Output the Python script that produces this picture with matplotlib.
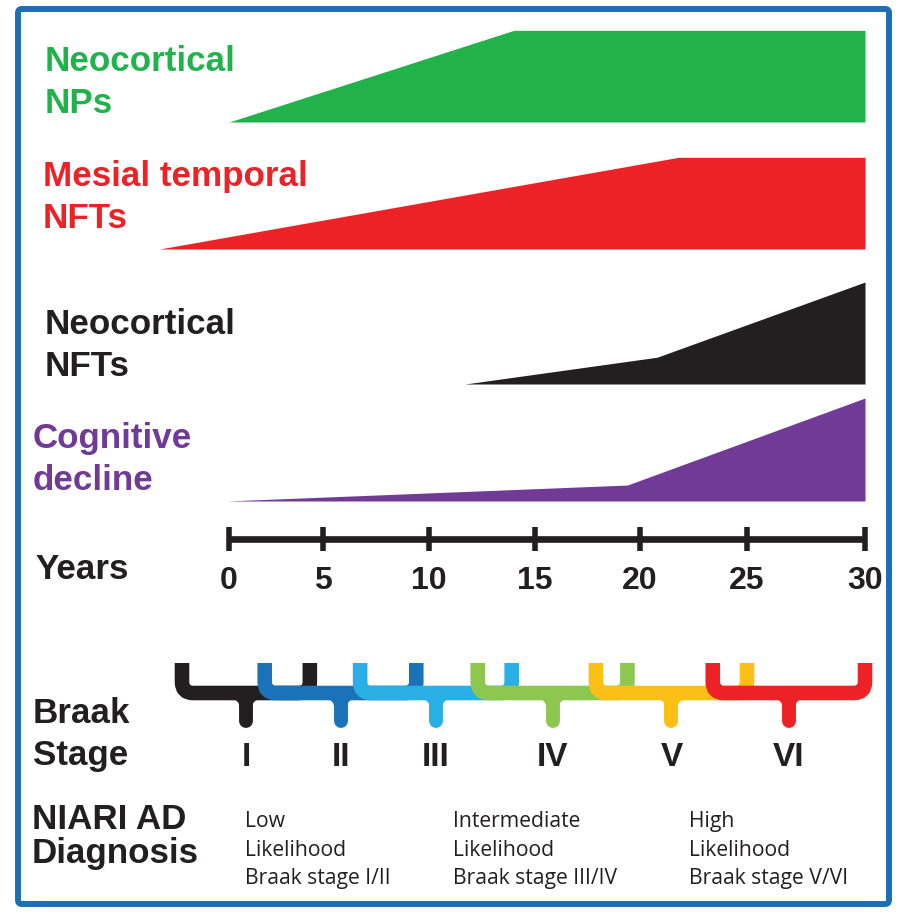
import matplotlib
matplotlib.use('Agg')
import matplotlib.pyplot as plt
import numpy as np
from matplotlib.path import Path
from matplotlib.patches import PathPatch, FancyBboxPatch

# timeline: tick years and where each tick sits across the figure (px)
tick_years = [0, 5, 10, 15, 20, 25, 30]
tick_px = [229, 323, 429, 535, 640, 747, 865]

# band profiles, level is relative height (1 = full band)
np_years = [0, 14, 30]
np_level = [0, 0.89, 0.89]
mt_years = [-3.7, 21.8, 30]
mt_level = [0, 0.89, 0.89]
nc_years = [11.7, 20.8, 30]
nc_level = [0, 0.26, 0.99]
cog_years = [-0.15, 19.4, 30]
cog_level = [0, 0.155, 1.0]

band_labels = ['Neocortical\nNPs', 'Mesial temporal\nNFTs', 'Neocortical\nNFTs', 'Cognitive\ndecline']

braak_stages = ['I', 'II', 'III', 'IV', 'V', 'VI']
braak_start = [-2.5, 1.9, 6.75, 12.3, 17.9, 23.4]
braak_end = [4.3, 9.4, 13.9, 19.4, 25.0, 30.0]

diag_lines = [['Low', 'Likelihood', 'Braak stage I/II'],
              ['Intermediate', 'Likelihood', 'Braak stage III/IV'],
              ['High', 'Likelihood', 'Braak stage V/VI']]

W, H = 900, 919
BAND_H = 103
TXT = '#231f20'

# piecewise scale years -> px, extended linearly to the figure edges
s0 = (tick_px[1] - tick_px[0]) / 5
s1 = (tick_px[-1] - tick_px[-2]) / 5
knot_y = [tick_years[0] - tick_px[0] / s0] + tick_years + [tick_years[-1] + (W - tick_px[-1]) / s1]
knot_p = [0] + tick_px + [W]

def fwd(v):
    return np.interp(v, knot_y, knot_p)

def inv(p):
    return np.interp(p, knot_p, knot_y)

fig = plt.figure(figsize=(W / 100, H / 100), dpi=100)
ax = fig.add_axes([0, 0, 1, 1])
ax.set_xscale('function', functions=(fwd, inv))
ax.set_xlim(knot_y[0], knot_y[-1])
ax.set_ylim(H, 0)
ax.axis('off')

ov = fig.add_axes([0, 0, 1, 1], zorder=3)
ov.set_xlim(0, W)
ov.set_ylim(H, 0)
ov.axis('off')
ov.patch.set_visible(False)

# area bands
bands = [(np_years, np_level, 122, '#21b24b'),
         (mt_years, mt_level, 249, '#ec2227'),
         (nc_years, nc_level, 384, '#231f20'),
         (cog_years, cog_level, 501, '#703a96')]
for yrs, lev, base, col in bands:
    ax.fill_between(yrs, base, base - BAND_H * np.array(lev), color=col, lw=0)

bold = dict(family='Liberation Sans', weight='bold', fontsize=25.2)
label_pos = [(45, 71, '#21b24b'), (43, 186, '#ec2227'), (45, 334, '#231f20'), (33, 448, '#703a96')]
for lab, (x, y, col) in zip(band_labels, label_pos):
    for k, line in enumerate(lab.split('\n')):
        ov.text(x, y + 42 * k, line, color=col, va='baseline', ha='left', **bold)

# timeline
ax.plot([tick_years[0], tick_years[-1]], [539, 539], color=TXT, lw=4.8, solid_capstyle='butt')
ax.vlines(tick_years, 527, 551, color=TXT, lw=4)
for t in tick_years:
    ax.text(t, 589, str(t), ha='center', va='baseline', color=TXT,
            family=['Liberation Sans Narrow', 'Liberation Sans'], weight='bold', fontsize=23)
ov.text(35, 579, 'Years', color=TXT, va='baseline', **bold)

# Braak stage braces
brace_cols = ['#231f20', '#1a73b9', '#2aaee6', '#8ec74f', '#fcbf16', '#ed2227']
arm_top, bar_y, tip_y, r = 663, 693, 721, 11
for i, (a, b, name, col) in enumerate(zip(braak_start, braak_end, braak_stages, brace_cols)):
    L, R = float(fwd(a)), float(fwd(b))
    C = (L + R) / 2
    z = 5 + i
    verts = [(L, arm_top), (L, bar_y - r), (L, bar_y), (L + r, bar_y),
             (R - r, bar_y), (R, bar_y), (R, bar_y - r), (R, arm_top)]
    codes = [Path.MOVETO, Path.LINETO, Path.CURVE3, Path.CURVE3,
             Path.LINETO, Path.CURVE3, Path.CURVE3, Path.LINETO]
    ov.add_patch(PathPatch(Path(verts, codes), fill=False, ec=col, lw=10.5,
                           capstyle='butt', joinstyle='round', zorder=z))
    ov.plot([C, C], [bar_y, tip_y], color=col, lw=10, solid_capstyle='round', zorder=z)
    fv = [(C - 16, bar_y + 6), (C - 6, bar_y + 6), (C - 6, bar_y + 16),
          (C + 6, bar_y + 16), (C + 6, bar_y + 6), (C + 16, bar_y + 6), (C - 16, bar_y + 6)]
    fc = [Path.MOVETO, Path.CURVE3, Path.CURVE3, Path.LINETO, Path.CURVE3, Path.CURVE3, Path.CLOSEPOLY]
    ov.add_patch(PathPatch(Path(fv, fc), fc=col, ec='none', zorder=z))
    ov.text(C, 766, name, ha='center', va='baseline', color=TXT,
            family=['Liberation Sans Narrow', 'Liberation Sans'], weight='bold', fontsize=24)

ov.text(33, 723, 'Braak', color=TXT, va='baseline', **bold)
ov.text(33, 765, 'Stage', color=TXT, va='baseline', **bold)

# NIA-RI diagnosis
ov.text(32, 829, 'NIARI AD', color=TXT, va='baseline', **bold)
ov.text(32, 863, 'Diagnosis', color=TXT, va='baseline', **bold)
for x, lines in zip([245, 453, 689], diag_lines):
    for k, line in enumerate(lines):
        ov.text(x, 827 + 28.5 * k, line, color=TXT, va='baseline', ha='left',
                family='Open Sans', fontsize=15.2)

# frame
ov.add_patch(FancyBboxPatch((18, 9), 871, 895, boxstyle='round,pad=0,rounding_size=4',
                            fill=False, ec='#1c6fb7', lw=4.3, zorder=20))

fig.savefig('out.png', dpi=100)
